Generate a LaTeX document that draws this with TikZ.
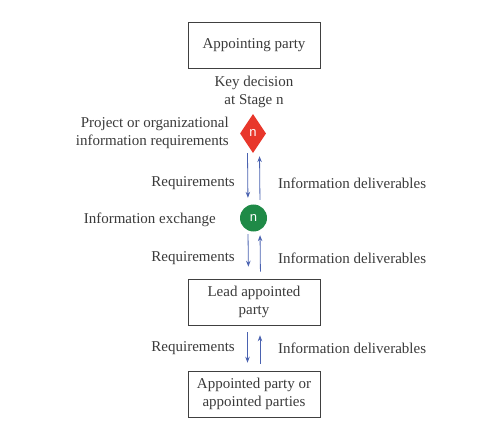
\documentclass[tikz,border=0pt]{standalone}
\usepackage{fontspec}
\setmainfont{Liberation Serif}
\setsansfont{Liberation Sans}
\usetikzlibrary{shapes.geometric,arrows.meta}
\definecolor{txt}{HTML}{3A3A3A}
\definecolor{arrblue}{HTML}{4A62B0}
\definecolor{redd}{HTML}{E8372B}
\definecolor{grn}{HTML}{1F8A47}
\tikzset{
  lbl/.style={text=txt,font=\fontsize{15}{18}\selectfont,inner sep=0pt,align=center},
  party/.style={draw=black!75,line width=0.6pt,minimum width=132pt,minimum height=46pt,inner sep=2pt,text=txt,font=\fontsize{15}{18}\selectfont,align=center},
  arr/.style={draw=arrblue,line width=0.8pt,-{Stealth[length=6pt,width=4.5pt]}},
}
\begin{document}
\begin{tikzpicture}[x=1pt,y=-1pt]
\useasboundingbox (0,0) rectangle (489,430);
\node[party] (ap) at (254,45) {Appointing party};
\node[lbl] (kd) at (254,91.5) {Key decision\\at Stage n};
\node[diamond,fill=redd,minimum width=26pt,minimum height=39pt,inner sep=0pt,text=white,font=\sffamily\fontsize{13}{13}\selectfont] (dia) at (253,133.5) {n};
\node[lbl,anchor=east,align=right] (pir) at (229,132.5) {Project or organizational\\information requirements};
\node[circle,fill=grn,minimum size=27pt,inner sep=0pt,text=white,font=\sffamily\fontsize{13}{13}\selectfont] (cir) at (253.5,218) {n};
\node[lbl,anchor=east] (ie) at (216,220) {Information exchange};
\node[party] (lap) at (254,302) {Lead appointed\\party};
\node[party] (apo) at (254,394) {Appointed party or\\appointed parties};
% arrows
\draw[arr,shorten >=6.5pt] ([xshift=-5.5pt]dia.south) -- ([xshift=-5.5pt]cir.north);
\draw[arr,shorten <=4.5pt,shorten >=3pt] ([xshift=6.5pt]cir.north) -- ([xshift=6.5pt]dia.south);
\draw[arr,shorten <=2.5pt,shorten >=12pt] ([xshift=-5.5pt]cir.south) -- ([xshift=-5.5pt]lap.north);
\draw[arr,shorten <=7pt,shorten >=3.5pt] ([xshift=6.5pt]lap.north) -- ([xshift=6.5pt]cir.south);
\draw[arr,shorten <=7pt,shorten >=8pt] ([xshift=-6.5pt]lap.south) -- ([xshift=-6.5pt]apo.north);
\draw[arr,shorten <=7pt,shorten >=10pt] ([xshift=6pt]apo.north) -- ([xshift=6pt]lap.south);
% labels
\node[lbl,anchor=east] (r1) at (235,183) {Requirements};
\node[lbl,anchor=west] (d1) at (278,183) {Information deliverables};
\node[lbl,anchor=east] (r2) at (235,258) {Requirements};
\node[lbl,anchor=west] (d2) at (278,258) {Information deliverables};
\node[lbl,anchor=east] (r3) at (235,348) {Requirements};
\node[lbl,anchor=west] (d3) at (278,348) {Information deliverables};
\end{tikzpicture}
\end{document}
